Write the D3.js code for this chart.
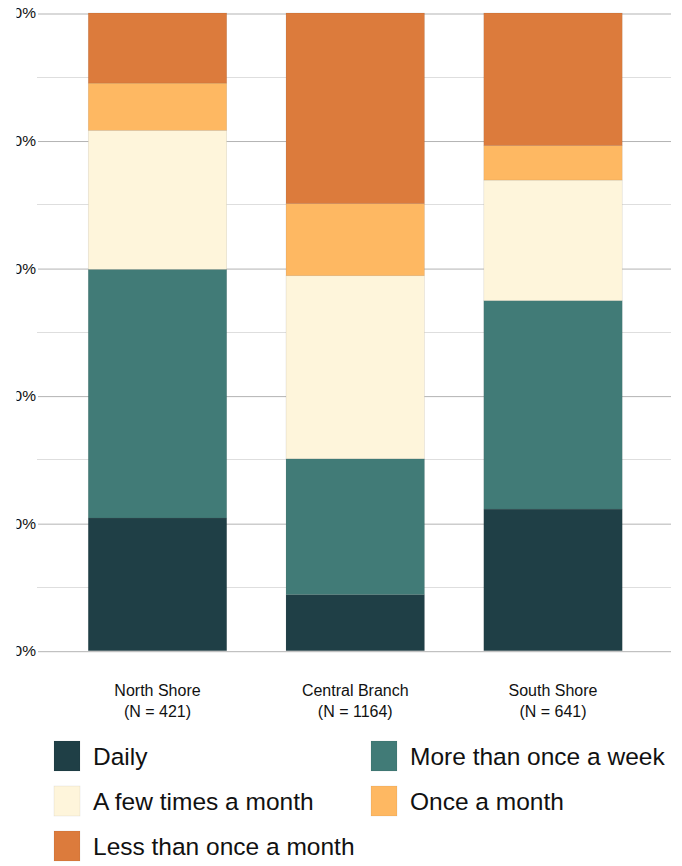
<!DOCTYPE html>
<html>
<head>
<meta charset="utf-8">
<script src="https://cdn.jsdelivr.net/npm/d3@7"></script>
<style>
  html, body { margin: 0; padding: 0; background: #fff; }
  svg { display: block; }
  text { font-family: "Liberation Sans", Arial, sans-serif; fill: #111; }
</style>
</head>
<body>
<svg id="chart" width="682" height="866"></svg>
<script>
// ---- data ----
const branches = ["North Shore", "Central Branch", "South Shore"];
const branchN = [421, 1164, 641];
const seriesNames = ["Daily", "More than once a week", "A few times a month", "Once a month", "Less than once a month"];
const daily        = [20.8,  8.8, 22.2];
const moreThanWeek = [39.0, 21.3, 32.7];
const fewPerMonth  = [21.8, 28.7, 18.9];
const oncePerMonth = [ 7.4, 11.3,  5.4];
const lessThanMonth= [11.0, 29.9, 20.8];
const seriesColors = ["#1f3f46", "#417b77", "#fef5db", "#feb862", "#dc7b3c"];
const yTicks = [0, 20, 40, 60, 80, 100];
const yMinorTicks = [10, 30, 50, 70, 90];

// ---- build ----
const seriesValues = [daily, moreThanWeek, fewPerMonth, oncePerMonth, lessThanMonth];
const table = branches.map((b, i) => {
  const row = { branch: b };
  seriesNames.forEach((s, k) => row[s] = seriesValues[k][i]);
  return row;
});
const stacked = d3.stack().keys(seriesNames)(table);

const svg = d3.select("#chart");
const gridX0 = 38, gridX1 = 671;
const x = d3.scaleBand().domain(branches).range([58.6, 651.9]).paddingInner(0.3).paddingOuter(0.15);
const y = d3.scaleLinear().domain([0, 100]).range([650.7, 13]);
const color = d3.scaleOrdinal().domain(seriesNames).range(seriesColors);

// clip for the cut-off tick labels
svg.append("defs").append("clipPath").attr("id", "lblclip")
  .append("rect").attr("x", 16.5).attr("y", 0).attr("width", 700).attr("height", 866);

// minor gridlines
svg.append("g").selectAll("line").data(yMinorTicks).join("line")
  .attr("x1", gridX0 - 1).attr("x2", gridX1)
  .attr("y1", d => Math.round(y(d)) + 0.5).attr("y2", d => Math.round(y(d)) + 0.5)
  .attr("stroke", "#dedede").attr("stroke-width", 1);

// major gridlines + labels via axis
const yAxis = d3.axisLeft(y).tickValues(yTicks).tickFormat(d => d + "%")
  .tickSize(-(gridX1 - gridX0)).tickPadding(2);
const ag = svg.append("g").attr("transform", `translate(${gridX0},0.5)`).call(yAxis);
ag.select(".domain").remove();
ag.selectAll(".tick line").attr("stroke", "#b3b3b3").attr("stroke-width", 1);
ag.selectAll(".tick text")
  .attr("font-size", "15.5px").attr("fill", "#111")
  .attr("font-family", '"Liberation Sans", Arial, sans-serif');
ag.attr("clip-path", null);
ag.selectAll(".tick text").each(function() {
  // apply clip in page coords by wrapping
});
// move tick texts into a clipped group in page coords
const lblG = svg.append("g").attr("clip-path", "url(#lblclip)");
yTicks.forEach(t => {
  lblG.append("text")
    .attr("x", gridX0 - 2).attr("y", y(t)).attr("dy", "0.35em")
    .attr("text-anchor", "end").attr("font-size", "15.5px")
    .text(t + "%");
});
ag.selectAll(".tick text").remove();

// bars
svg.append("g").selectAll("g").data(stacked).join("g")
  .attr("fill", d => color(d.key))
  .selectAll("rect").data(d => d).join("rect")
  .attr("x", d => x(d.data.branch))
  .attr("width", x.bandwidth())
  .attr("y", d => y(d[1]))
  .attr("height", d => y(d[0]) - y(d[1]))
  .attr("stroke", "rgba(0,0,0,0.12)").attr("stroke-width", 0.6);

// x labels
const xl = svg.append("g");
branches.forEach((b, i) => {
  const cx = x(b) + x.bandwidth() / 2;
  const t = xl.append("text").attr("text-anchor", "middle").attr("font-size", "16px");
  t.append("tspan").attr("x", cx).attr("y", 696).text(b);
  t.append("tspan").attr("x", cx).attr("y", 717).text(`(N = ${branchN[i]})`);
});

// legend
const legendPos = [
  { sx: 54, row: 0 }, { sx: 371, row: 0 },
  { sx: 54, row: 1 }, { sx: 371, row: 1 },
  { sx: 54, row: 2 }
];
const lg = svg.append("g");
seriesNames.forEach((s, k) => {
  const p = legendPos[k];
  const cy = 756 + p.row * 45;
  lg.append("rect").attr("x", p.sx).attr("y", cy - 15).attr("width", 26).attr("height", 30)
    .attr("fill", color(s)).attr("stroke", "rgba(0,0,0,0.1)").attr("stroke-width", 0.6);
  lg.append("text").attr("x", p.sx + 39).attr("y", cy).attr("dy", "0.36em")
    .attr("font-size", "24.5px").text(s);
});
</script>
</body>
</html>
